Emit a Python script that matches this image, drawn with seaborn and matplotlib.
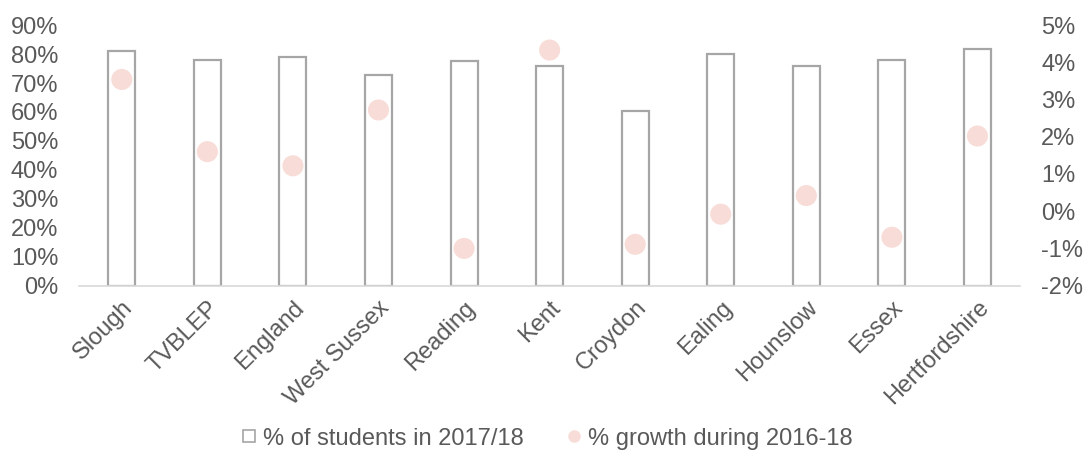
import matplotlib
matplotlib.use("Agg")
import matplotlib.pyplot as plt
from matplotlib.lines import Line2D
import seaborn as sns
import pandas as pd

areas = ["Slough", "TVBLEP", "England", "West Sussex", "Reading", "Kent",
         "Croydon", "Ealing", "Hounslow", "Essex", "Hertfordshire"]
students_2017_18 = [81.0, 77.8, 79.1, 72.6, 77.6, 75.8, 60.4, 79.9, 75.8, 78.0, 81.7]
growth_2016_18 = [3.54, 1.60, 1.22, 2.72, -1.0, 4.33, -0.89, -0.08, 0.42, -0.70, 2.02]
left_ticks = list(range(0, 91, 10))
right_ticks = list(range(-2, 6, 1))

df = pd.DataFrame({"area": areas, "students": students_2017_18, "growth": growth_2016_18})

sns.set_style("white")
plt.rcParams["font.family"] = ["Liberation Sans", "DejaVu Sans"]

text_col = "#595959"
bar_edge = "#A6A6A6"
dot_col = "#F8DCD7"
fs = 17

fig = plt.figure(figsize=(10.9, 4.57), dpi=100)
ax = fig.add_axes([0.0725, 0.375, 0.8635, 0.57])

sns.barplot(data=df, x="area", y="students", ax=ax, color="white",
            edgecolor=bar_edge, linewidth=1.6, width=0.316, saturation=1)
ax.set_ylim(0, 90)
ax.set_xlim(-0.5, len(areas) - 0.5)
ax.set_yticks(left_ticks)
ax.set_yticklabels([f"{t}%" for t in left_ticks])
ax.set_xlabel("")
ax.set_ylabel("")
ax.tick_params(axis="y", length=0, labelsize=fs, labelcolor=text_col, pad=15)
ax.tick_params(axis="x", length=0, labelsize=fs, labelcolor=text_col, pad=8)
plt.setp(ax.get_xticklabels(), rotation=45, ha="right", rotation_mode="anchor")
for s in ["top", "right", "left"]:
    ax.spines[s].set_visible(False)
ax.spines["bottom"].set_color("#D9D9D9")
ax.spines["bottom"].set_linewidth(1.2)

ax2 = ax.twinx()
sns.scatterplot(data=df, x="area", y="growth", ax=ax2, color=dot_col,
                s=230, edgecolor="none", zorder=3)
ax2.set_ylim(-2, 5)
ax2.set_yticks(right_ticks)
ax2.set_yticklabels([f"{t}%" for t in right_ticks])
ax2.set_ylabel("")
ax2.tick_params(axis="y", length=0, labelsize=fs, labelcolor=text_col, pad=15)
for s in ["top", "right", "left", "bottom"]:
    ax2.spines[s].set_visible(False)

handles = [
    Line2D([], [], linestyle="none", marker="s", markersize=9,
           markerfacecolor="white", markeredgecolor=bar_edge, markeredgewidth=1.2),
    Line2D([], [], linestyle="none", marker="o", markersize=9,
           markerfacecolor=dot_col, markeredgecolor="none"),
]
fig.legend(handles, ["% of students in 2017/18", "% growth during 2016-18"],
           loc="center", bbox_to_anchor=(0.5, 0.04), ncol=2, frameon=False,
           fontsize=fs, labelcolor=text_col, handletextpad=0.1,
           columnspacing=1.6, handlelength=1.0)

fig.savefig("out.png", dpi=100)
